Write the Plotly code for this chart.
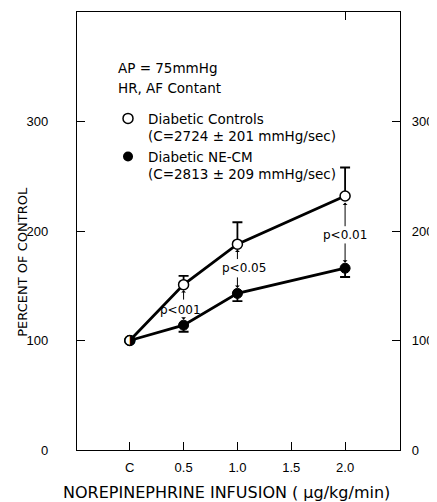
import plotly.graph_objects as go

# ---- data ----
dose_labels = ["C", "0.5", "1.0", "1.5", "2.0"]
dose_ticks = [0, 0.5, 1.0, 1.5, 2.0]
doses = [0, 0.5, 1.0, 2.0]

controls = [100, 151, 188, 232]
controls_se = [0, 8, 20, 26]
necm = [100, 114, 143, 166]
necm_se = [0, 6, 7, 8]

y_ticks = [0, 100, 200, 300]

p_labels = ["p<001", "p<0.05", "p<0.01"]
p_x = [0.47, 1.06, 2.0]
p_y = [128, 166, 196]

FONT = "Liberation Sans"
TFONT = "DejaVu Sans"
BLACK = "black"

fig = go.Figure()

# NE-CM (filled)
fig.add_trace(go.Scatter(
    x=doses, y=necm, mode="lines+markers", showlegend=False,
    line=dict(color=BLACK, width=2.8),
    marker=dict(symbol="circle", size=10, color=BLACK, line=dict(color=BLACK, width=1)),
    error_y=dict(type="data", symmetric=False, array=[0] * len(necm), arrayminus=necm_se,
                 color=BLACK, thickness=1.8, width=5),
))
# Controls (open)
fig.add_trace(go.Scatter(
    x=doses, y=controls, mode="lines+markers", showlegend=False,
    line=dict(color=BLACK, width=2.8),
    marker=dict(symbol="circle", size=10, color="white", line=dict(color=BLACK, width=1.5)),
    error_y=dict(type="data", symmetric=False, array=controls_se, arrayminus=[0] * len(controls),
                 color=BLACK, thickness=1.8, width=5),
))
# half-filled control point
fig.add_trace(go.Scatter(
    x=doses[:1], y=controls[:1], mode="text", text=["\u25D1"], showlegend=False,
    textfont=dict(family="DejaVu Sans", size=14, color=BLACK), textposition="middle center",
    hoverinfo="skip",
))
# legend-only entries
fig.add_trace(go.Scatter(
    x=[None], y=[None], mode="markers", name="Diabetic Controls<br>(C=2724 ± 201 mmHg/sec)",
    marker=dict(symbol="circle", size=10, color="white", line=dict(color=BLACK, width=1.5)),
))
fig.add_trace(go.Scatter(
    x=[None], y=[None], mode="markers", name="Diabetic NE-CM<br>(C=2813 ± 209 mmHg/sec)",
    marker=dict(symbol="circle", size=10, color=BLACK),
))
# dummy trace for mirrored axes
fig.add_trace(go.Scatter(
    x=[0], y=[0], xaxis="x2", yaxis="y2", mode="markers", showlegend=False,
    marker=dict(opacity=0), hoverinfo="skip",
))

annotations = []
for t, x, y in zip(p_labels, p_x, p_y):
    annotations.append(dict(x=x, y=y, xref="x", yref="y", text=t, showarrow=False,
                            font=dict(family=TFONT, size=12, color=BLACK)))

# arrows from p-labels to points
arrow_specs = [
    (0.5, 136, 146), (0.5, 122, 119),
    (1.0, 173, 183), (1.0, 159, 148),
    (2.0, 203, 226), (2.0, 190, 171),
]
for x, tail, head in arrow_specs:
    annotations.append(dict(x=x, y=head, ax=x, ay=tail, xref="x", yref="y", axref="x", ayref="y",
                            text="", showarrow=True, arrowhead=1, arrowsize=0.8, arrowwidth=1,
                            arrowcolor=BLACK))

annotations += [
    dict(x=-0.13, y=349, xref="x", yref="y", text="AP = 75mmHg", showarrow=False,
         xanchor="left", font=dict(family=TFONT, size=13.5, color=BLACK)),
    dict(x=-0.13, y=331, xref="x", yref="y", text="HR, AF Contant", showarrow=False,
         xanchor="left", font=dict(family=TFONT, size=13.5, color=BLACK)),
    dict(x=-0.167, y=172, xref="paper", yref="y", text="PERCENT OF CONTROL", showarrow=False,
         xanchor="center", yanchor="middle",
         textangle=-90, font=dict(family=TFONT, size=13, color=BLACK)),
    dict(x=0.464, y=-0.098, xref="paper", yref="paper", text="NOREPINEPHRINE INFUSION ( \u03bcg/kg/min)",
         xanchor="center", yanchor="middle",
         showarrow=False, font=dict(family=TFONT, size=16, color=BLACK)),
]

axis_common = dict(showgrid=False, zeroline=False, showline=True, linecolor=BLACK, linewidth=1.2,
                   ticks="inside", ticklen=8, tickcolor=BLACK, tickwidth=1.2, automargin=False,
                   tickfont=dict(family=FONT, size=13, color=BLACK))

# page body has an 8px margin: figure is shrunk by 8px and left/top margins shifted
fig.update_layout(
    width=429, height=494,
    margin=dict(l=69, r=37, t=4, b=52, autoexpand=False),
    plot_bgcolor="white", paper_bgcolor="white",
    xaxis=dict(range=[-0.49, 2.51], tickvals=dose_ticks, ticktext=dose_labels, mirror=True,
               ticklabelstandoff=5, **axis_common),
    yaxis=dict(range=[0, 400], tickvals=y_ticks, ticklabelstandoff=25, **axis_common),
    xaxis2=dict(range=[-0.49, 2.51], overlaying="x", side="top", tickvals=[2.0],
                showticklabels=False, **axis_common),
    yaxis2=dict(range=[0, 400], overlaying="y", side="right", anchor="x2", tickvals=y_ticks,
                ticklabelstandoff=8, **axis_common),
    legend=dict(x=0.096, y=0.792, xanchor="left", yanchor="top", bgcolor="rgba(0,0,0,0)",
                font=dict(family=TFONT, size=13.5, color=BLACK), valign="top", tracegroupgap=14,
                itemclick=False),
    annotations=annotations,
    showlegend=True,
)

fig.write_html("out.html")
